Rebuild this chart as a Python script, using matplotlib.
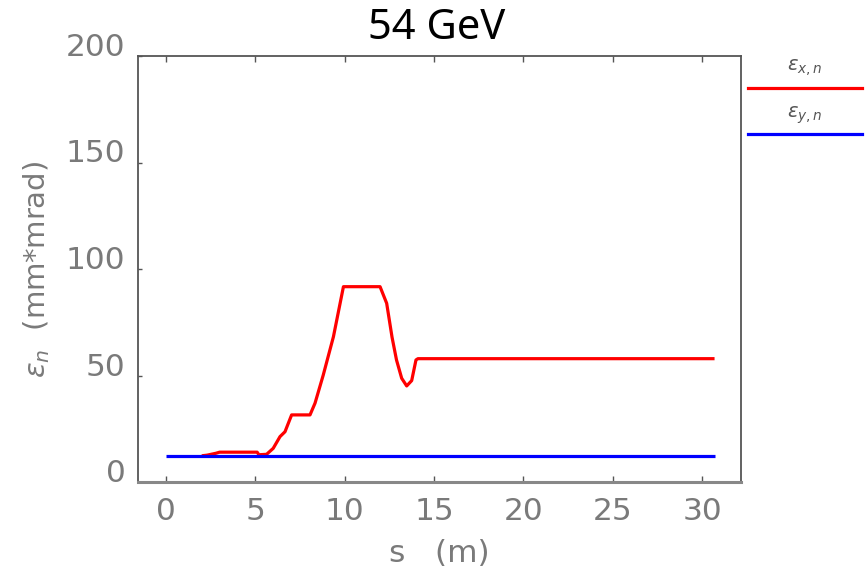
import matplotlib
matplotlib.use("Agg")
import matplotlib.pyplot as plt
from matplotlib.lines import Line2D

# ---- data ----
title = "54 GeV"
x_label = "s   (m)"
y_label = r"$\epsilon_{n}$  (mm*mrad)"
x_ticks = [0, 5, 10, 15, 20, 25, 30]
y_ticks = [0, 50, 100, 150, 200]

s_red = [2.0, 2.3, 2.8, 3.0, 5.1, 5.2, 5.63, 6.0, 6.38, 6.66, 7.03, 8.06, 8.34, 8.8,
         9.37, 9.93, 11.98, 12.35, 12.65, 12.9, 13.19, 13.47, 13.75, 13.99, 14.1, 30.7]
eps_x = [12.3, 12.6, 13.5, 14.0, 14.0, 12.8, 13.0, 15.8, 21.3, 23.6, 31.5, 31.5, 37.0, 50.2,
         68.2, 91.7, 91.7, 83.9, 68.0, 57.3, 48.7, 45.1, 47.6, 57.3, 57.9, 57.9]
s_blue = [0.0, 30.7]
eps_y = [12.0, 12.0]

legend_labels = [r"$\epsilon_{x,n}$", r"$\epsilon_{y,n}$"]
colors = ["#ff0000", "#0000ff"]

# ---- figure ----
fig = plt.figure(figsize=(8.68, 5.74), dpi=100)
ax = fig.add_axes([138/868, 1-482/574, (741-138)/868, (482-56)/574])

ax.plot(s_red, eps_x, color=colors[0], lw=2.3, solid_capstyle="butt", zorder=3)
ax.plot(s_blue, eps_y, color=colors[1], lw=2.3, solid_capstyle="butt", zorder=3)

ax.set_xlim(-1.567, 32.18)
ax.set_ylim(0, 200)

txt_color = "#7a7a7a"
tick_font = dict(family="DejaVu Sans", size=22.5, color=txt_color)
ax.set_xticks(x_ticks)
ax.set_yticks(y_ticks)
ax.set_xticklabels([str(t) for t in x_ticks], **tick_font)
ax.set_yticklabels([str(t) for t in y_ticks], **tick_font)
for lab in ax.get_yticklabels():
    lab.set_verticalalignment("baseline")
ax.tick_params(axis="x", direction="in", length=4, width=1, color="#555555",
               top=True, pad=11)
ax.tick_params(axis="y", direction="in", length=3, width=1, color="#555555",
               pad=9)

for side in ["left", "top", "right"]:
    ax.spines[side].set_color("#555555")
    ax.spines[side].set_linewidth(1.3)
ax.spines["bottom"].set_color("#888888")
ax.spines["bottom"].set_linewidth(2.2)

ax.set_xlabel(x_label, family="DejaVu Sans", size=22.5, color=txt_color, labelpad=9)
ax.set_ylabel(y_label, family="DejaVu Sans", size=21, color=txt_color, labelpad=10)

fig.text(437/868, 1-28/574, title, ha="center", va="center",
         family="Noto Sans", size=30, color="black")

# ---- legend (outside, right) ----
leg_y_lines = [1-87.7/574, 1-134/574]
leg_y_text = [1-68/574, 1-115/574]
for lab, c, yl, yt in zip(legend_labels, colors, leg_y_lines, leg_y_text):
    fig.add_artist(Line2D([748/868, 862/868], [yl, yl], color=c, lw=2.3,
                          transform=fig.transFigure))
    fig.text(805/868, yt, lab, ha="center", va="center", size=14,
             color="#555555", family="DejaVu Sans")

fig.savefig("out.png", dpi=100)
